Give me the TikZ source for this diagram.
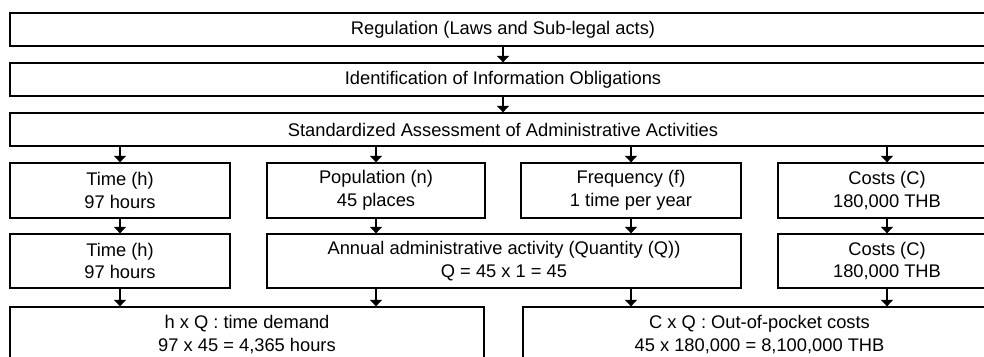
\documentclass[tikz,border=0pt]{standalone}
\usepackage{fontspec}
\setmainfont{Liberation Sans}
\usetikzlibrary{arrows.meta,shadows}
\tikzset{
  box/.style={draw=black, line width=1.3pt, fill=white, align=center,
    inner sep=0pt, font=\fontsize{18.3}{22.5}\selectfont,
    drop shadow={shadow xshift=1.2pt, shadow yshift=-1.2pt, fill=black!22, opacity=0.8}},
  arr/.style={line width=1.4pt, -{Triangle[width=12pt,length=6.5pt]}}
}
\begin{document}
\begin{tikzpicture}[x=1pt,y=-1pt]
\useasboundingbox (0,0) rectangle (984,356);
\clip (0,0) rectangle (984,356);
% top full-width rows
\node[box, minimum width=986pt, minimum height=33pt] (r1) at (503,29.5) {Regulation (Laws and Sub-legal acts)};
\node[box, minimum width=986pt, minimum height=33pt] (r2) at (503,79.5) {Identification of Information Obligations};
\node[box, minimum width=986pt, minimum height=33pt] (r3) at (503,129.5) {Standardized Assessment of Administrative Activities};
% row 4
\node[box, minimum width=220pt, minimum height=55pt] (t1) at (120,190.5) {Time (h)\\97 hours};
\node[box, minimum width=218pt, minimum height=55pt] (p1) at (376,190.5) {Population (n)\\45 places};
\node[box, minimum width=220pt, minimum height=55pt] (f1) at (631,190.5) {Frequency (f)\\1 time per year};
\node[box, minimum width=218pt, minimum height=55pt] (c1) at (887,190.5) {Costs (C)\\180,000 THB};
% row 5
\node[box, minimum width=220pt, minimum height=54pt] (t2) at (120,261) {Time (h)\\97 hours};
\node[box, minimum width=474pt, minimum height=54pt] (an) at (504,261) {Annual administrative activity (Quantity (Q))\\Q = 45 x 1 = 45};
\node[box, minimum width=218pt, minimum height=54pt] (c2) at (887,261) {Costs (C)\\180,000 THB};
% row 6
\node[box, minimum width=474pt, minimum height=55pt] (bl) at (247,334.5) {h x Q : time demand\\97 x 45 = 4,365 hours};
\node[box, minimum width=473pt, minimum height=55pt] (br) at (759.5,334.5) {C x Q : Out-of-pocket costs\\45 x 180,000 = 8,100,000 THB};
% arrows
\draw[arr] (r1.south) -- (r2.north);
\draw[arr] (r2.south) -- (r3.north);
\draw[arr] (r3.south -| t1.north) -- (t1.north);
\draw[arr] (r3.south -| p1.north) -- (p1.north);
\draw[arr] (r3.south -| f1.north) -- (f1.north);
\draw[arr] (r3.south -| c1.north) -- (c1.north);
\draw[arr] (t1.south) -- (t2.north);
\draw[arr] (p1.south) -- (an.north -| p1.south);
\draw[arr] (f1.south) -- (an.north -| f1.south);
\draw[arr] (c1.south) -- (c2.north);
\draw[arr] (t2.south) -- (bl.north -| t2.south);
\draw[arr] (an.south -| p1.south) -- (bl.north -| p1.south);
\draw[arr] (an.south -| f1.south) -- (br.north -| f1.south);
\draw[arr] (c2.south) -- (br.north -| c2.south);
\end{tikzpicture}
\end{document}
